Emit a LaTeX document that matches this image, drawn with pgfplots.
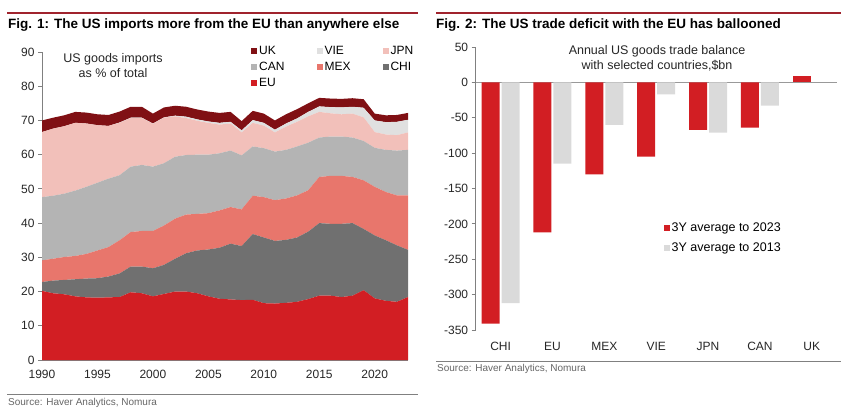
\documentclass[border=0pt]{standalone}
\usepackage{fontspec}
\setmainfont{Liberation Sans}
\usepackage{pgfplots}
\pgfplotsset{compat=1.18}
\usepackage{pgfplotstable}

\definecolor{eured}{RGB}{210,30,35}
\definecolor{chigrey}{RGB}{112,112,112}
\definecolor{mexsalmon}{RGB}{232,118,108}
\definecolor{cangrey}{RGB}{180,180,180}
\definecolor{jpnpink}{RGB}{242,192,186}
\definecolor{viegrey}{RGB}{224,224,224}
\definecolor{ukdark}{RGB}{128,16,20}
\definecolor{lightbar}{RGB}{218,218,218}
\definecolor{rulered}{RGB}{160,35,45}

\pgfplotstableread{
year eu chi mex can jpn vie uk
1990 20.2 2.6 6.3 18.5 19.0 0.0 3.4
1991 19.5 3.7 6.4 18.4 19.6 0.0 3.2
1992 19.2 4.2 6.7 18.5 19.7 0.0 3.2
1993 18.6 5.0 6.8 19.1 19.8 0.0 3.2
1994 18.3 5.5 7.2 19.6 18.5 0.0 3.2
1995 18.2 5.7 8.1 19.8 16.8 0.0 3.2
1996 18.3 6.1 8.6 20.0 15.4 0.0 3.2
1997 18.4 6.9 9.7 19.0 15.3 0.1 3.2
1998 19.8 7.5 10.1 19.1 14.2 0.1 3.2
1999 19.5 7.8 10.4 19.3 13.7 0.1 3.2
2000 18.6 8.2 10.9 18.8 12.5 0.1 2.9
2001 19.3 8.5 11.5 18.2 13.3 0.1 2.9
2002 20.0 9.6 11.7 18.1 11.8 0.2 2.9
2003 20.0 11.2 11.3 17.4 10.8 0.4 2.9
2004 19.5 12.5 10.7 17.3 9.9 0.4 2.9
2005 18.6 13.7 10.6 17.1 9.3 0.4 2.9
2006 17.9 14.9 10.9 16.7 8.4 0.5 2.9
2007 17.7 16.3 10.7 16.5 7.9 0.5 2.9
2008 17.5 15.8 10.7 15.8 6.7 0.6 2.7
2009 17.6 19.2 11.2 14.4 6.9 0.8 2.7
2010 16.6 19.2 11.8 14.3 6.6 0.8 2.7
2011 16.5 18.3 11.9 14.2 5.6 0.8 2.7
2012 16.7 18.4 12.1 14.2 6.8 0.9 2.7
2013 17.0 18.8 12.3 14.3 7.2 1.0 2.7
2014 17.8 19.7 12.1 13.9 7.7 1.3 2.5
2015 18.8 21.2 13.5 11.5 7.5 1.6 2.5
2016 18.8 21.0 14.0 11.5 6.8 1.8 2.5
2017 18.4 21.4 14.0 11.5 6.5 2.0 2.5
2018 18.8 21.2 13.5 11.5 7.0 2.0 2.5
2019 20.4 17.9 14.2 11.5 6.9 2.8 2.5
2020 18.0 18.4 14.2 11.4 4.6 3.4 2.0
2021 17.3 17.7 14.1 12.3 4.5 3.6 2.0
2022 17.0 16.5 14.6 13.1 4.5 3.9 2.0
2023 18.4 13.8 15.9 13.3 5.1 3.7 2.0
}\imports

\pgfplotstableread{
x recent older
0 -341 -312
1 -212 -115
2 -130 -60
3 -105 -17
4 -67 -71
5 -64 -33
}\balance

\pgfplotstableread{
x recent
6 9
}\balanceuk

\begin{document}
\begin{tikzpicture}[x=1pt,y=1pt]
\path[use as bounding box] (0pt,0pt) rectangle (848pt,418pt);

% ---------- panel frames ----------
\draw[rulered, line width=2pt] (7pt,405pt) -- (418pt,405pt);
\draw[rulered, line width=2pt] (436pt,405pt) -- (841pt,405pt);
\node[anchor=west, inner sep=0pt, font=\fontsize{13.5}{15}\selectfont\bfseries] at (8pt,393pt) {Fig. 1: The US imports more from the EU than anywhere else};
\node[anchor=west, inner sep=0pt, font=\fontsize{13.5}{15}\selectfont\bfseries] at (436pt,393pt) {Fig. 2: The US trade deficit with the EU has ballooned};
\draw[gray, line width=0.8pt] (7pt,24pt) -- (418pt,24pt);
\draw[gray, line width=0.8pt] (436pt,57pt) -- (841pt,57pt);
\node[anchor=west, inner sep=0pt, text=black!60, font=\fontsize{10}{12}\selectfont] at (8pt,15pt) {Source: Haver Analytics, Nomura};
\node[anchor=west, inner sep=0pt, text=black!60, font=\fontsize{10}{12}\selectfont] at (437pt,49pt) {Source: Haver Analytics, Nomura};

% ---------- Fig 1 ----------
\begin{axis}[
  at={(42pt,58pt)}, anchor=south west, scale only axis,
  width=366pt, height=308pt,
  xmin=1990, xmax=2023, ymin=0, ymax=90,
  stack plots=y,
  axis x line*=bottom, axis y line*=left,
  axis line style={gray, line width=0.8pt},
  xtick={1990,1995,...,2020}, ytick={0,10,...,90},
  /pgf/number format/1000 sep={},
  /pgf/number format/assume math mode=true,
  tick label style={font=\fontsize{12}{14}\selectfont, text=black!85},
  x tick label style={yshift=-3pt},
  tick align=outside, major tick length=4pt,
  y tick style={gray, line width=0.8pt},
  x tick style={draw=none},
  legend columns=3, reverse legend,
  legend cell align=left,
  legend style={at={(0.571,1.025)}, anchor=north west, draw=none, fill=none,
    font=\fontsize{12}{14}\selectfont, inner sep=0pt, row sep=2pt,
    /tikz/every even column/.append style={column sep=30pt}},
  legend image code/.code={\fill[#1] (0pt,-3pt) rectangle (6pt,3pt);},
  clip=false,
]
\addplot[fill=eured, draw=none] table[x=year, y=eu] {\imports} \closedcycle;
\addlegendentry{EU}
\addplot[fill=chigrey, draw=none] table[x=year, y=chi] {\imports} \closedcycle;
\addlegendentry{CHI}
\addplot[fill=mexsalmon, draw=none] table[x=year, y=mex] {\imports} \closedcycle;
\addlegendentry{MEX}
\addplot[fill=cangrey, draw=none] table[x=year, y=can] {\imports} \closedcycle;
\addlegendentry{CAN}
\addplot[fill=jpnpink, draw=none] table[x=year, y=jpn] {\imports} \closedcycle;
\addlegendentry{JPN}
\addplot[fill=viegrey, draw=none] table[x=year, y=vie] {\imports} \closedcycle;
\addlegendentry{VIE}
\addplot[fill=ukdark, draw=none] table[x=year, y=uk] {\imports} \closedcycle;
\addlegendentry{UK}
\end{axis}
\node[align=center, font=\fontsize{12.5}{15}\selectfont, text=black!85] at (113pt,352pt) {US goods imports\\as \% of total};

% ---------- Fig 2 ----------
\begin{axis}[
  at={(475.7pt,88pt)}, anchor=south west, scale only axis,
  width=361pt, height=283pt,
  xmin=-0.48, xmax=6.48, ymin=-350, ymax=50,
  ybar=2pt, bar width=18pt,
  axis x line*=bottom, axis y line*=left,
  x axis line style={draw=none},
  y axis line style={gray, line width=0.8pt},
  xtick={0,...,6}, xticklabels={CHI,EU,MEX,VIE,JPN,CAN,UK},
  ytick={-350,-300,...,50},
  /pgf/number format/assume math mode=true,
  tick label style={font=\fontsize{12}{14}\selectfont, text=black!85},
  x tick label style={yshift=-5pt},
  tick align=outside, major tick length=4pt,
  y tick style={gray, line width=0.8pt},
  x tick style={draw=none},
  extra y ticks={0}, extra y tick labels={},
  extra y tick style={grid=major, major grid style={draw=gray!80, line width=0.8pt}},
  legend cell align=left,
  legend style={at={(0.52,0.385)}, anchor=north west, draw=none, fill=none,
    font=\fontsize{12.5}{14}\selectfont, inner sep=0pt, row sep=5pt},
  legend image code/.code={\fill[#1] (0pt,-3pt) rectangle (6pt,3pt);},
  clip=false,
]
\addplot[fill=eured, draw=none, bar shift=-10pt] table[x=x, y=recent] {\balance};
\addlegendentry{3Y average to 2023}
\addplot[fill=lightbar, draw=none, bar shift=10pt] table[x=x, y=older] {\balance};
\addlegendentry{3Y average to 2013}
\addplot[fill=eured, draw=none, bar shift=-10pt, forget plot] table[x=x, y=recent] {\balanceuk};
\end{axis}
\node[align=center, font=\fontsize{12.5}{15}\selectfont, text=black!85] at (657pt,360pt) {Annual US goods trade balance\\with selected countries,\$bn};

\end{tikzpicture}
\end{document}
